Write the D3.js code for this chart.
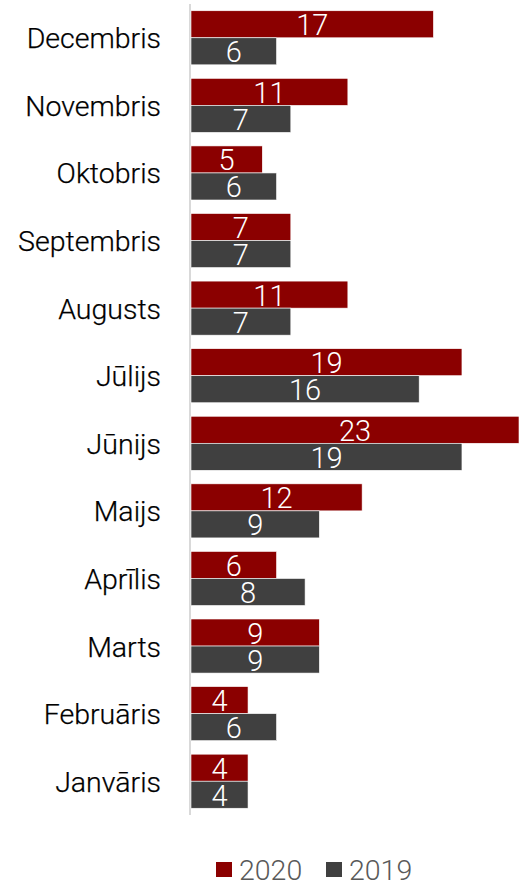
<!DOCTYPE html>
<html><head><meta charset="utf-8">
<script src="https://cdn.jsdelivr.net/npm/d3@7"></script>
<style>body{margin:0;background:#fff}svg{display:block}</style>
</head><body>
<script>
const months = ["Decembris","Novembris","Oktobris","Septembris","Augusts","Jūlijs","Jūnijs","Maijs","Aprīlis","Marts","Februāris","Janvāris"];
const values2020 = [17,11,5,7,11,19,23,12,6,9,4,4];
const values2019 = [6,7,6,7,7,16,19,9,8,9,6,4];
const seriesNames = ["2020","2019"];
const colors = ["#8B0000","#404040"];

const W=519,H=882;
const svg=d3.select("body").append("svg").attr("width",W).attr("height",H);
const x=d3.scaleLinear().domain([0,23]).range([191,519]);
const y=d3.scaleBand().domain(months).range([4,815]).paddingInner(0.2).paddingOuter(0.1);
const sub=d3.scaleBand().domain(seriesNames).range([0,y.bandwidth()]);
const data=[values2020,values2019];

// axis line
svg.append("line").attr("x1",190).attr("x2",190).attr("y1",4).attr("y2",815)
  .attr("stroke","#d9d9d9").attr("stroke-width",2);

seriesNames.forEach((s,si)=>{
  const g=svg.append("g");
  g.selectAll("rect").data(months).join("rect")
    .attr("x",x(0)).attr("y",d=>y(d)+sub(s))
    .attr("width",(d,i)=>x(data[si][i])-x(0)).attr("height",sub.bandwidth())
    .attr("fill",colors[si]).attr("stroke","#fff").attr("stroke-width",0.6);
  g.selectAll("text").data(months).join("text")
    .attr("x",(d,i)=>(x(data[si][i])+x(0))/2)
    .attr("y",d=>y(d)+sub(s)+sub.bandwidth()/2+11)
    .attr("text-anchor","middle").attr("fill","#fff")
    .attr("font-family","Roboto").attr("font-weight",300).attr("font-size",29)
    .text((d,i)=>data[si][i]);
});

svg.append("g").selectAll("text").data(months).join("text")
  .attr("x",161).attr("y",d=>y(d)+y.bandwidth()/2+10.5)
  .attr("text-anchor","end").attr("fill","#000")
  .attr("font-family","Roboto").attr("font-weight",300).attr("font-size",28.5)
  .attr("stroke","#000").attr("stroke-width",0.25)
  .text(d=>d);

// legend
const leg=svg.append("g");
const lx=[216,326];
seriesNames.forEach((s,i)=>{
  leg.append("rect").attr("x",lx[i]).attr("y",862).attr("width",16).attr("height",15).attr("fill",colors[i]);
  leg.append("text").attr("x",lx[i]+23).attr("y",880).attr("fill","#595959")
    .attr("font-family","Roboto").attr("font-weight",300).attr("font-size",28.5).text(s);
});
</script>
</body></html>
